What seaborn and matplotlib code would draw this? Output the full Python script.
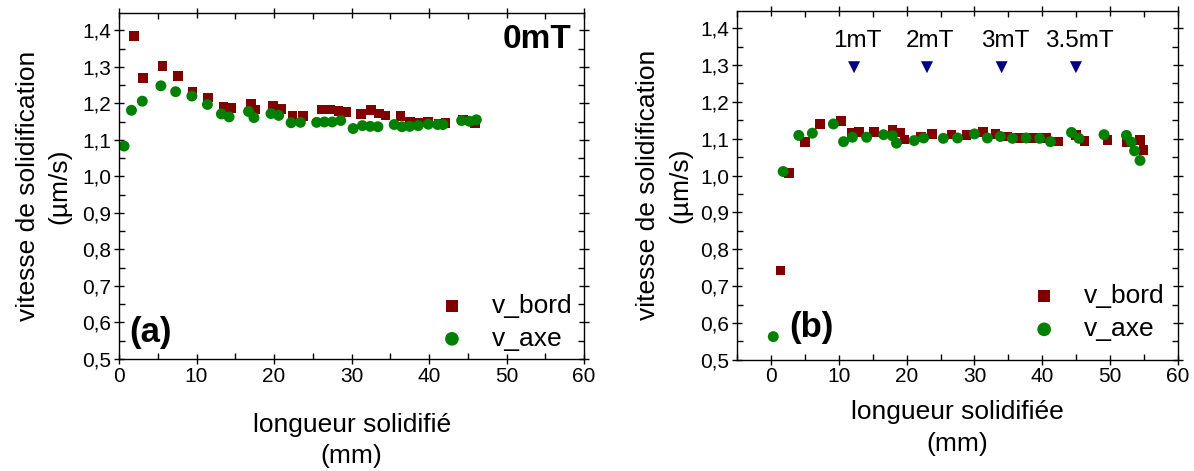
import pandas as pd
import matplotlib
matplotlib.use('Agg')
import matplotlib.pyplot as plt
import seaborn as sns
from matplotlib.ticker import MultipleLocator, FuncFormatter

# -------------------------------
# DATA
# -------------------------------
# (a) 0mT
a_bord_x = [1.9, 3.1, 5.6, 7.6, 9.5, 11.5, 13.5, 14.5, 17.0, 17.6, 19.9, 20.9, 22.4, 23.7,
            26.2, 27.3, 28.3, 29.3, 31.2, 32.5, 33.5, 34.4, 36.3, 37.5, 38.6, 39.9, 41.2,
            42.1, 44.4, 45.9]
a_bord_y = [1.384, 1.269, 1.302, 1.275, 1.231, 1.216, 1.190, 1.188, 1.198, 1.183, 1.193,
            1.184, 1.165, 1.165, 1.183, 1.183, 1.179, 1.177, 1.170, 1.181, 1.172, 1.167,
            1.165, 1.149, 1.147, 1.149, 1.145, 1.147, 1.154, 1.145]
a_axe_x = [0.65, 1.6, 3.0, 5.4, 7.3, 9.4, 11.4, 13.2, 14.2, 16.7, 17.4, 19.6, 20.6, 22.2,
           23.4, 25.5, 26.5, 27.5, 28.6, 30.2, 31.4, 32.4, 33.4, 35.5, 36.5, 37.5, 38.6,
           39.9, 41.1, 41.8, 44.2, 45.2, 46.1]
a_axe_y = [1.083, 1.181, 1.206, 1.248, 1.232, 1.220, 1.197, 1.171, 1.163, 1.178, 1.161,
           1.172, 1.167, 1.147, 1.148, 1.148, 1.149, 1.149, 1.153, 1.131, 1.139, 1.137,
           1.136, 1.142, 1.136, 1.137, 1.139, 1.143, 1.142, 1.142, 1.153, 1.151, 1.155]

# (b) field steps
b_bord_x = [1.4, 2.7, 5.05, 7.2, 10.3, 11.9, 13.0, 15.2, 17.9, 19.1, 19.7, 22.1, 23.7,
            26.6, 28.8, 31.3, 33.1, 34.8, 36.6, 38.6, 40.5, 42.3, 45.0, 46.2, 49.6, 52.5,
            54.4, 54.9]
b_bord_y = [0.742, 1.007, 1.091, 1.140, 1.148, 1.115, 1.119, 1.118, 1.124, 1.117, 1.098,
            1.104, 1.113, 1.111, 1.110, 1.119, 1.113, 1.106, 1.102, 1.102, 1.102, 1.092,
            1.110, 1.094, 1.097, 1.091, 1.097, 1.070]
b_axe_x = [0.34, 1.8, 4.1, 6.1, 9.2, 10.7, 12.0, 14.1, 16.6, 17.9, 18.5, 21.1, 22.5, 25.4,
           27.5, 30.0, 31.9, 33.8, 35.6, 37.6, 39.6, 41.2, 44.3, 45.4, 49.1, 52.4, 53.1,
           53.6, 54.4]
b_axe_y = [0.563, 1.011, 1.109, 1.115, 1.140, 1.092, 1.104, 1.104, 1.111, 1.108, 1.088,
           1.095, 1.102, 1.101, 1.102, 1.113, 1.102, 1.106, 1.101, 1.102, 1.101, 1.092,
           1.117, 1.101, 1.111, 1.109, 1.091, 1.067, 1.041]

field_x = [12.25, 23.0, 34.0, 44.95]
field_y = [1.294, 1.294, 1.294, 1.294]
field_labels = ['1mT', '2mT', '3mT', '3.5mT']

# -------------------------------
# STYLE
# -------------------------------
sns.set_style('ticks')
plt.rcParams['font.family'] = ['Liberation Sans', 'DejaVu Sans']
plt.rcParams['axes.linewidth'] = 1.0
for key in ['text.color', 'axes.labelcolor', 'xtick.color', 'ytick.color', 'axes.edgecolor']:
    plt.rcParams[key] = 'black'

fig = plt.figure(figsize=(11.94, 4.71), dpi=100)
ax1 = fig.add_axes([0.0997, 0.238, 0.3895, 0.734])
ax2 = fig.add_axes([0.6173, 0.236, 0.3693, 0.741])

comma = FuncFormatter(lambda v, p: f"{v:.1f}".replace('.', ','))


def panel(ax, bx, by, cx, cy):
    sns.scatterplot(x=bx, y=by, ax=ax, marker='s', s=48, color='#800000',
                    edgecolor='none', label='v_bord')
    sns.scatterplot(x=cx, y=cy, ax=ax, marker='o', s=62, color='#008000',
                    edgecolor='none', label='v_axe')
    ax.set_ylim(0.5, 1.447)
    ax.yaxis.set_major_locator(MultipleLocator(0.1))
    ax.yaxis.set_minor_locator(MultipleLocator(0.05))
    ax.yaxis.set_major_formatter(comma)
    ax.xaxis.set_major_locator(MultipleLocator(10))
    ax.xaxis.set_minor_locator(MultipleLocator(5))
    ax.tick_params(which='major', direction='inout', length=7, width=1,
                   top=True, right=True, labelsize=15, pad=2)
    ax.tick_params(which='minor', direction='in', length=4, width=1,
                   top=True, right=True)
    for sp in ax.spines.values():
        sp.set_visible(True)
        sp.set_color('black')
    ax.set_ylabel('vitesse de solidification\n(µm/s)', fontsize=19, linespacing=1.4)


def legend(ax, anchor):
    handles, labels = ax.get_legend_handles_labels()
    ax.legend(handles[:2], labels[:2], loc='lower right', frameon=False, fontsize=19,
              handletextpad=0.5, labelspacing=0.35, borderaxespad=0.0,
              markerscale=1.25, bbox_to_anchor=anchor)


panel(ax1, a_bord_x, a_bord_y, a_axe_x, a_axe_y)
ax1.set_xlim(0, 60)
ax1.set_xlabel('longueur solidifié\n(mm)', fontsize=19, labelpad=20, linespacing=1.33)
ax1.yaxis.labelpad = 8
ax1.text(0.023, 0.03, '(a)', transform=ax1.transAxes, fontsize=25, fontweight='bold',
         ha='left', va='bottom')
ax1.text(0.972, 0.97, '0mT', transform=ax1.transAxes, fontsize=24, fontweight='bold',
         ha='right', va='top')
legend(ax1, (0.997, -0.007))

panel(ax2, b_bord_x, b_bord_y, b_axe_x, b_axe_y)
ax2.set_xlim(-5, 60)
ax2.set_xlabel('longueur solidifiée\n(mm)', fontsize=19, labelpad=10, linespacing=1.38)
ax2.yaxis.labelpad = 6
sns.scatterplot(x=field_x, y=field_y, ax=ax2, marker='v', s=75, color='#000080',
                edgecolor='none')
for fx, lab in zip(field_x, field_labels):
    ax2.text(fx + 0.5, 1.335, lab, fontsize=17.5, ha='center', va='bottom')
ax2.text(0.118, 0.045, '(b)', transform=ax2.transAxes, fontsize=25, fontweight='bold',
         ha='left', va='bottom')
legend(ax2, (0.993, 0.023))

fig.savefig('out.png', dpi=100)
